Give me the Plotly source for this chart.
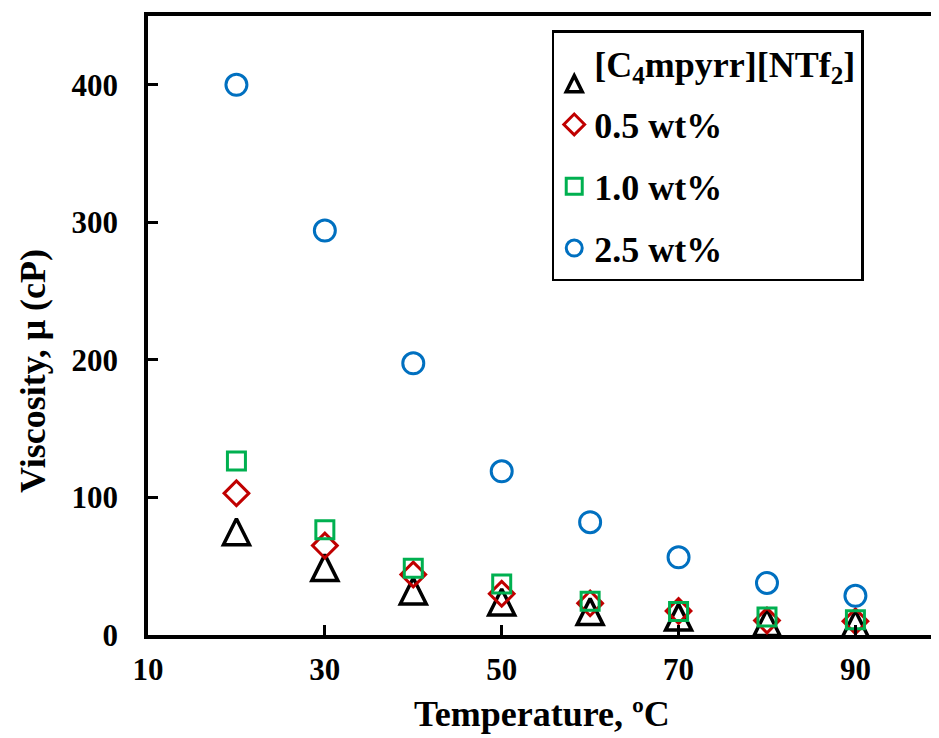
import plotly.graph_objects as go

temperature = [20, 30, 40, 50, 60, 70, 80, 90]
visc_il = [75, 49, 32, 24, 17, 13, 9, 8]
visc_05 = [103, 65, 44, 30, 23, 17.5, 10.5, 10]
visc_10 = [126.5, 76.5, 48.5, 37, 24.6, 17, 13, 11]
visc_25 = [400, 294, 197.5, 119, 82, 56.5, 37.8, 28.5]

series_names = ["[C<sub>4</sub>mpyrr][NTf<sub>2</sub>]", "0.5 wt%", "1.0 wt%", "2.5 wt%"]
x_ticks = [10, 30, 50, 70, 90]
y_ticks = [0, 100, 200, 300, 400]

FONT = "Liberation Serif"

fig = go.Figure()

fig.add_trace(go.Scatter(
    x=temperature, y=visc_il, mode="markers", name=series_names[0], legendgroup="a",
    marker=dict(symbol="arrow-down-open", angle=180, standoff=13, size=26,
                color="#000000", line=dict(color="#000000", width=3.5)),
))
fig.add_trace(go.Scatter(
    x=temperature, y=visc_05, mode="markers", name=series_names[1], legendgroup="b",
    marker=dict(symbol="diamond-open", size=19, color="#C00000",
                line=dict(color="#C00000", width=3)),
))
fig.add_trace(go.Scatter(
    x=temperature, y=visc_10, mode="markers", name=series_names[2], legendgroup="c",
    marker=dict(symbol="square-open", size=18, color="#00B050",
                line=dict(color="#00B050", width=3)),
))
fig.add_trace(go.Scatter(
    x=temperature, y=visc_25, mode="markers", name=series_names[3], legendgroup="d",
    marker=dict(symbol="circle-open", size=21, color="#0070C0",
                line=dict(color="#0070C0", width=3)),
))

fig.update_layout(
    width=931, height=730,
    margin=dict(l=140, r=4, t=4, b=103),
    paper_bgcolor="white", plot_bgcolor="white",
    font=dict(family=FONT, color="black", weight="bold"),
    legend=dict(
        x=0.513, y=0.977, xanchor="left", yanchor="top",
        bgcolor="white", bordercolor="black", borderwidth=2.5,
        font=dict(family=FONT, size=36, color="black", weight="bold"),
        traceorder="grouped", tracegroupgap=12,
    ),
    xaxis=dict(
        range=[10, 99], tickvals=x_ticks, ticktext=[str(v) for v in x_ticks],
        showline=True, linecolor="black", linewidth=3.5, mirror=True,
        ticks="inside", ticklen=10, tickwidth=3, tickcolor="black",
        showgrid=False, zeroline=False,
        tickfont=dict(family=FONT, size=31, color="black", weight="bold"),
        ticklabelstandoff=4,
    ),
    yaxis=dict(
        range=[0, 450], tickvals=y_ticks, ticktext=[str(v) for v in y_ticks],
        showline=True, linecolor="black", linewidth=3.5,
        ticks="inside", ticklen=10, tickwidth=3, tickcolor="black",
        showgrid=False, zeroline=False,
        tickfont=dict(family=FONT, size=31, color="black", weight="bold"),
        ticklabelstandoff=20,
    ),
    annotations=[
        dict(text="Temperature, ºC", xref="paper", yref="paper", x=0.5, y=-0.128,
             xanchor="center", yanchor="middle", showarrow=False,
             font=dict(family=FONT, size=36, color="black", weight="bold")),
        dict(text="Viscosity, μ (cP)", xref="paper", x=-0.146, yref="y", y=192,
             xanchor="center", yanchor="middle", textangle=-90, showarrow=False,
             font=dict(family=FONT, size=36, color="black", weight="bold")),
    ],
)

fig.write_html("out.html")
